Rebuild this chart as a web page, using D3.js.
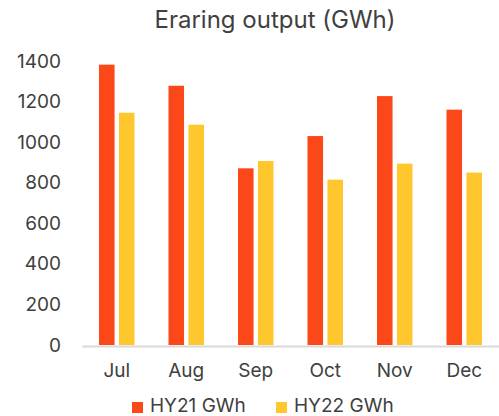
<!DOCTYPE html>
<html>

<head>
  <title>Eraring output</title>
  <script src="https://cdn.jsdelivr.net/npm/d3@7"></script>
  <style type="text/css">
    body {
      margin: 0;
      background: #fff;
    }

    text {
      font-family: Inter, "Noto Sans", sans-serif;
      fill: #404040;
    }
  </style>
</head>

<body>
  <div id="chartArea"></div>
  <script type="text/javascript">
    let months = ['Jul', 'Aug', 'Sep', 'Oct', 'Nov', 'Dec'];
    let hy21 = [1382, 1278, 871, 1030, 1227, 1160];
    let hy22 = [1145, 1086, 907, 815, 894, 850];
    let seriesNames = ['HY21 GWh', 'HY22 GWh'];
    let yTicks = [0, 200, 400, 600, 800, 1000, 1200, 1400];
    let colors = ['#fc4719', '#ffc72e'];

    let width = 499, height = 416;
    let margin = { top: 61, right: 0, bottom: 71, left: 82 };

    let svg = d3.select('#chartArea').append('svg')
      .attr('width', width)
      .attr('height', height);

    let xScale = d3.scaleBand()
      .domain(months)
      .range([margin.left, width - margin.right]);

    let xInner = d3.scaleBand()
      .domain(seriesNames)
      .range([17, xScale.bandwidth() - 17])
      .paddingInner(0.22);

    let yScale = d3.scaleLinear()
      .domain([0, 1400])
      .range([345, margin.top]);

    // title
    svg.append('text')
      .attr('x', 275)
      .attr('y', 28)
      .attr('text-anchor', 'middle')
      .style('font-size', '24px')
      .text('Eraring output (GWh)');

    // y axis labels only
    let yAxis = d3.axisLeft(yScale)
      .tickValues(yTicks)
      .tickFormat(d3.format('d'))
      .tickSize(0)
      .tickPadding(0);
    let yg = svg.append('g')
      .attr('transform', 'translate(61,0)')
      .call(yAxis);
    yg.select('.domain').remove();
    yg.selectAll('text').style('font-size', '19px').attr('fill', '#404040');

    let rows = months.map((m, i) => ({ month: m, values: [hy21[i], hy22[i]] }));

    let groups = svg.selectAll('g.month')
      .data(rows)
      .enter()
      .append('g')
      .attr('class', 'month')
      .attr('transform', d => `translate(${xScale(d.month)},0)`);

    groups.selectAll('rect')
      .data(d => d.values.map((v, j) => ({ name: seriesNames[j], value: v, j: j })))
      .enter()
      .append('rect')
      .attr('x', d => xInner(d.name))
      .attr('width', xInner.bandwidth())
      .attr('y', d => yScale(d.value))
      .attr('height', d => yScale(0) - yScale(d.value))
      .attr('fill', d => colors[d.j]);

    // x axis
    let xAxis = d3.axisBottom(xScale).tickSize(0).tickPadding(18);
    let xg = svg.append('g')
      .attr('transform', 'translate(0,346)')
      .call(xAxis);
    xg.select('.domain').attr('stroke', '#d9d9d9').attr('stroke-width', 2);
    xg.selectAll('text').style('font-size', '19px').attr('fill', '#404040');

    // legend
    let legendX = [132, 276];
    let legend = svg.selectAll('g.legend')
      .data(seriesNames)
      .enter()
      .append('g')
      .attr('class', 'legend')
      .attr('transform', (d, i) => `translate(${legendX[i]},402)`);

    legend.append('rect')
      .attr('width', 11)
      .attr('height', 11)
      .attr('fill', (d, i) => colors[i]);

    legend.append('text')
      .attr('x', 18)
      .attr('y', 10)
      .style('font-size', '19px')
      .text(d => d);
  </script>
</body>

</html>
